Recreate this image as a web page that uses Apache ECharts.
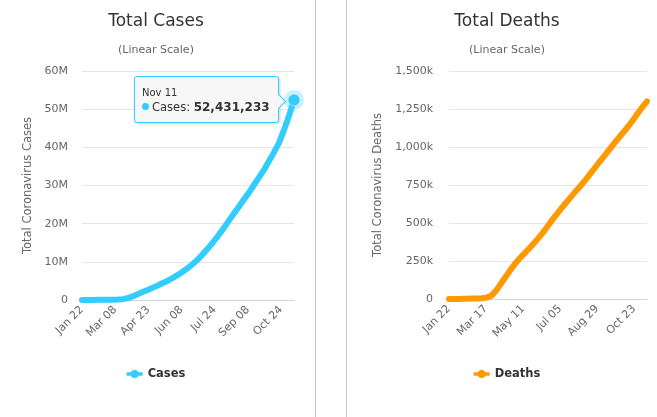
<!DOCTYPE html>
<html>
<head>
<meta charset="utf-8">
<script src="https://cdn.jsdelivr.net/npm/echarts@6/dist/echarts.min.js"></script>
<style>
  html, body { margin: 0; padding: 0; background: #fff; width: 657px; height: 417px; overflow: hidden; }
  #c1 { position: absolute; left: 0; top: 0; width: 312px; height: 417px; }
  #c2 { position: absolute; left: 347px; top: 0; width: 320px; height: 417px; }
  .div { position: absolute; top: 0; width: 1px; height: 417px; background: #c8c8c8; }
</style>
</head>
<body>
<div id="c1"></div>
<div class="div" style="left:315px"></div>
<div class="div" style="left:346px"></div>
<div id="c2"></div>
<script>
// Weekly sample dates (2020)
const dates = ['Jan 22','Jan 29','Feb 05','Feb 12','Feb 19','Feb 26','Mar 04','Mar 11','Mar 18','Mar 25',
  'Apr 01','Apr 08','Apr 15','Apr 22','Apr 29','May 06','May 13','May 20','May 27','Jun 03',
  'Jun 10','Jun 17','Jun 24','Jul 01','Jul 08','Jul 15','Jul 22','Jul 29','Aug 05','Aug 12',
  'Aug 19','Aug 26','Sep 02','Sep 09','Sep 16','Sep 23','Sep 30','Oct 07','Oct 14','Oct 21',
  'Oct 28','Nov 04','Nov 11'];
// Total coronavirus cases
const cases = [580, 6000, 28000, 45000, 75000, 82000, 95000, 126000, 220000, 470000,
  935000, 1520000, 2080000, 2640000, 3210000, 3800000, 4440000, 5060000, 5800000, 6580000,
  7460000, 8430000, 9500000, 10700000, 12100000, 13600000, 15200000, 16900000, 18700000, 20600000,
  22500000, 24300000, 26200000, 28000000, 30000000, 32000000, 34000000, 36300000, 38600000, 41100000,
  44500000, 48200000, 52431233];
// Total coronavirus deaths
const deaths = [17, 133, 565, 1118, 2012, 2800, 3300, 4600, 9000, 22000,
  55000, 100000, 145000, 190000, 232000, 268000, 300000, 332000, 366000, 402000,
  440000, 482000, 524000, 564000, 603000, 640000, 677000, 713000, 748000, 786000,
  825000, 865000, 905000, 943000, 983000, 1022000, 1060000, 1097000, 1135000, 1175000,
  1220000, 1262000, 1300000];
const casesTicks = [0, 10e6, 20e6, 30e6, 40e6, 50e6, 60e6];
const deathsTicks = [0, 250e3, 500e3, 750e3, 1000e3, 1250e3, 1500e3];

const MONTHS = ['Jan','Feb','Mar','Apr','May','Jun','Jul','Aug','Sep','Oct','Nov','Dec'];
const MSTART = [0,31,60,91,121,152,182,213,244,274,305,335];
const FIRST_DOY = 21; // Jan 22 (0-based day of year)
function dayIndex(label) {
  const [m, d] = label.split(' ');
  return MSTART[MONTHS.indexOf(m)] + parseInt(d, 10) - 1 - FIRST_DOY;
}
function dayLabel(idx) {
  const doy = Math.round(idx) + FIRST_DOY;
  let m = 11;
  while (MSTART[m] > doy) m--;
  const d = doy - MSTART[m] + 1;
  return MONTHS[m] + ' ' + (d < 10 ? '0' + d : d);
}
const xs = dates.map(dayIndex);
const lastX = xs[xs.length - 1];

const FONT = 'DejaVu Sans';
function makeOption(cfg) {
  const pts = cfg.values.map((v, i) => [xs[i], v]);
  const last = pts[pts.length - 1];
  return {
    animation: false,
    textStyle: { fontFamily: FONT },
    title: {
      text: cfg.title, subtext: '(Linear Scale)', left: 'center', top: 8, itemGap: 15,
      textStyle: { fontFamily: FONT, fontSize: 17, fontWeight: 'normal', color: '#333' },
      subtextStyle: { fontFamily: FONT, fontSize: 11, color: '#666' }
    },
    legend: {
      data: [cfg.name], left: 'center', top: 363, itemWidth: 16, itemHeight: 8, itemGap: 6,
      icon: 'path://M0,2.3L16,2.3L16,5.7L0,5.7Z M8,0A4,4 0 1 1 7.99,0Z',
      textStyle: { fontFamily: FONT, fontSize: 11.5, fontWeight: 'bold', color: '#333' },
      selectedMode: false
    },
    grid: { left: cfg.gridLeft, right: cfg.gridRight, top: 71, bottom: cfg.gridBottom, containLabel: false, outerBoundsMode: 'none' },
    xAxis: {
      type: 'value', min: 0, max: lastX, interval: cfg.xInterval,
      splitLine: { show: false }, axisTick: { show: false },
      axisLine: { show: true, lineStyle: { color: '#ccd6eb', width: 1 } },
      axisLabel: { rotate: 45, margin: 8, fontSize: 11, color: '#666', fontFamily: FONT,
        showMaxLabel: false, showMinLabel: true, formatter: v => dayLabel(v) }
    },
    yAxis: {
      type: 'value', min: cfg.ticks[0], max: cfg.ticks[cfg.ticks.length - 1],
      interval: cfg.ticks[1] - cfg.ticks[0],
      name: cfg.yName, nameLocation: 'middle', nameGap: cfg.nameGap,
      nameTextStyle: { fontFamily: FONT, fontSize: 11.5, color: '#666' },
      axisLine: { show: false }, axisTick: { show: false },
      splitLine: { lineStyle: { color: '#e6e6e6', width: 1 } },
      axisLabel: { fontSize: 11, color: '#666', margin: cfg.labelMargin, fontFamily: FONT, formatter: cfg.yFmt }
    },
    tooltip: cfg.tooltip ? {
      trigger: 'axis', triggerOn: 'none', alwaysShowContent: true,
      axisPointer: { type: 'none' },
      backgroundColor: 'rgb(247,247,247)', borderColor: cfg.color, borderWidth: 1,
      padding: [9, 8, 7, 7],
      extraCssText: 'border-radius:3px;box-shadow:1px 1px 3px rgba(0,0,0,0.18);overflow:visible;',
      position: (point, params, dom, rect, size) =>
        [point[0] - size.contentSize[0] - 15, point[1] - size.contentSize[1] / 2],
      formatter: params => {
        const p = Array.isArray(params) ? params[0] : params;
        const v = p.value[1];
        return '<div style="position:relative;font-family:' + FONT + ';color:#333">' +
          '<div style="font-size:10px;line-height:13px">' + dayLabel(p.value[0]).replace(/ 0/, ' ') + '</div>' +
          '<div style="font-size:11.5px;line-height:16px;white-space:nowrap">' +
          '<span style="display:inline-block;width:7px;height:7px;border-radius:50%;background:' + cfg.color + ';margin-right:3px;vertical-align:1px"></span>' +
          cfg.name + ': <b style="font-size:12px">' + v.toLocaleString('en-US') + '</b></div>' +
          '<div style="position:absolute;right:-14px;top:calc(50% - 5px);box-sizing:border-box;width:11px;height:11px;background:rgb(247,247,247);border-top:1px solid ' + cfg.color + ';border-right:1px solid ' + cfg.color + ';transform:rotate(45deg)"></div>' +
          '</div>';
      }
    } : { show: false },
    series: [{
      name: cfg.name, type: 'line', data: pts, symbol: 'none', showSymbol: false,
      lineStyle: { color: cfg.color, width: 6, cap: 'round', join: 'round' },
      itemStyle: { color: cfg.color },
      emphasis: { disabled: true },
      markPoint: cfg.tooltip ? {
        silent: true, label: { show: false },
        data: [
          { coord: last, symbol: 'circle', symbolSize: 20, itemStyle: { color: 'rgba(51,204,255,0.28)' } },
          { coord: last, symbol: 'circle', symbolSize: 12, itemStyle: { color: cfg.color, borderColor: 'rgba(255,255,255,0.5)', borderWidth: 1 } }
        ]
      } : undefined
    }]
  };
}

const c1 = echarts.init(document.getElementById('c1'), null, { renderer: 'canvas' });
c1.setOption(makeOption({
  title: 'Total Cases', name: 'Cases', color: '#33ccff', values: cases, ticks: casesTicks,
  yName: 'Total Coronavirus Cases', nameGap: 48, labelMargin: 14,
  gridLeft: 82, gridRight: 18, gridBottom: 117, xInterval: 46,
  yFmt: v => v === 0 ? '0' : (v / 1e6) + 'M', tooltip: true
}));
c1.dispatchAction({ type: 'showTip', seriesIndex: 0, dataIndex: cases.length - 1 });

const c2 = echarts.init(document.getElementById('c2'), null, { renderer: 'canvas' });
c2.setOption(makeOption({
  title: 'Total Deaths', name: 'Deaths', color: '#ff9900', values: deaths, ticks: deathsTicks,
  yName: 'Total Coronavirus Deaths', nameGap: 63, labelMargin: 16,
  gridLeft: 102, gridRight: 20, gridBottom: 118, xInterval: 55,
  yFmt: v => v === 0 ? '0' : (v / 1000).toLocaleString('en-US') + 'k', tooltip: false
}));
</script>
</body>
</html>
